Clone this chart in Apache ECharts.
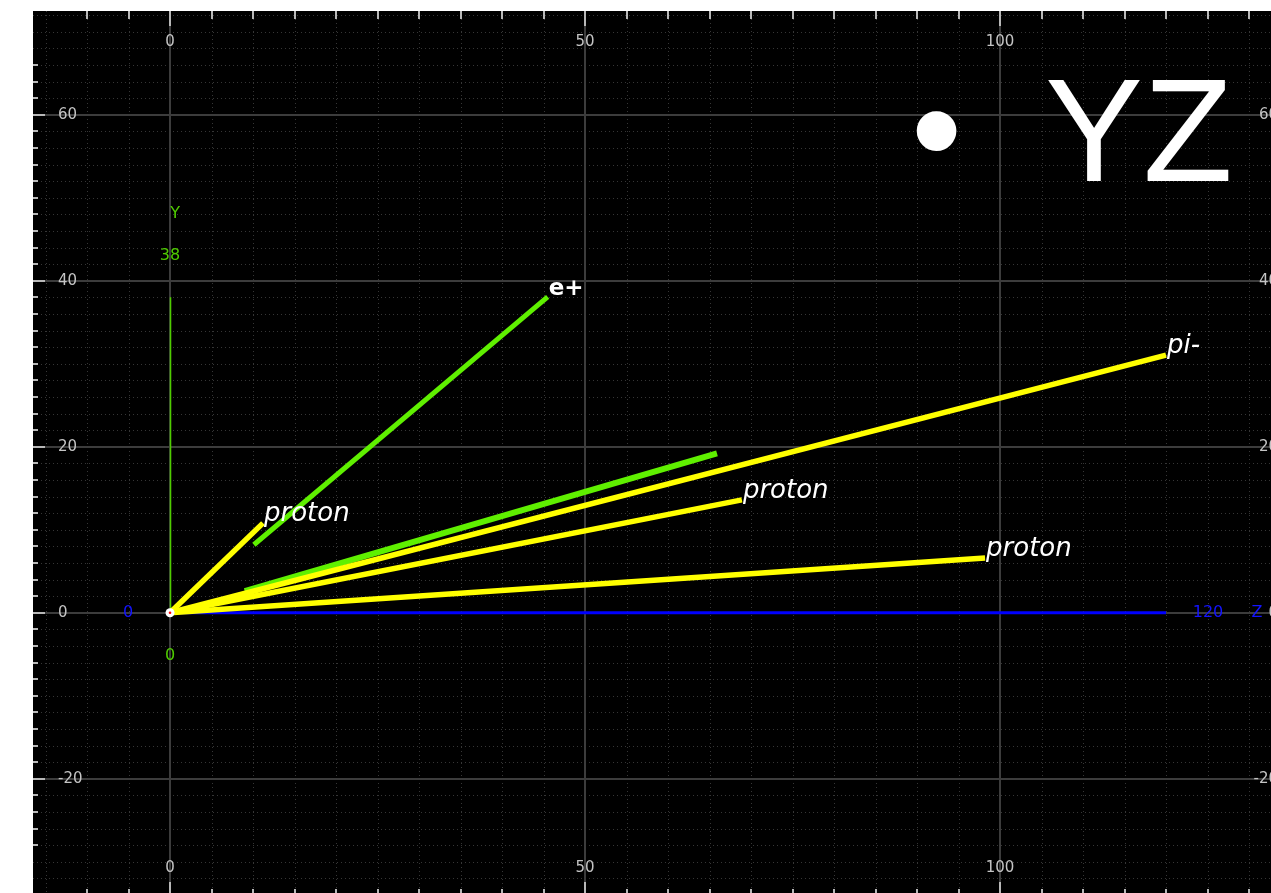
<!DOCTYPE html>
<html>
<head>
<meta charset="utf-8">
<script src="https://cdn.jsdelivr.net/npm/echarts@6/dist/echarts.min.js"></script>
<style>
  html, body { margin: 0; padding: 0; background: #ffffff; }
  #chart { width: 1271px; height: 893px; }
</style>
</head>
<body>
<div id="chart"></div>
<script>
// ---- data ----
const zMajorTicks = [0, 50, 100];
const zTickLabels = ['0', '50', '100'];
const yMajorTicks = [-20, 0, 20, 40, 60];
const yTickLabels = ['-20', '0', '20', '40', '60'];

// track kinds: 'e' = positron (green), 'h' = hadron (yellow)
const trackKinds  = ['e',   'e',  'h',      'h',   'h',      'h'];
const trackLabels = ['e+',  '',   'proton', 'pi-', 'proton', 'proton'];
const trackStartZ = [10.1,  9.0,  0,        0,     0,        0];
const trackStartY = [8.2,   2.6,  0,        0,     0,        0];
const trackEndZ   = [45.5,  65.9, 11.2,     120,   68.9,     98.2];
const trackEndY   = [38.05, 19.2, 10.8,     31.05, 13.6,     6.6];

// coordinate-axis indicators drawn in the scene
const yIndicatorRange = [0, 38];
const zIndicatorRange = [0, 120];
const yIndicatorName = 'Y';
const zIndicatorName = 'Z';

// ---- view extents ----
const zView = [-16.51, 132.65];
const yView = [-33.76, 72.5];

const GRID = { left: 33, top: 11, right: 0, bottom: 0 };
const minorZStep = 5, minorYStep = 2;
const tickZRange = [-10, 130], tickYRange = [-28, 66];

const chart = echarts.init(document.getElementById('chart'), null, { renderer: 'canvas' });

function approxIn(v, arr) { return arr.some(a => Math.abs(a - v) < 1e-6); }

function renderGrid(params, api) {
  const cs = params.coordSys;
  const L = cs.x, T = cs.y, R = cs.x + cs.width, B = cs.y + cs.height;
  const ch = [];
  const minorStyle = { stroke: '#363636', lineWidth: 1, lineDash: [1, 3] };
  const majorStyle = { stroke: '#3c3c3c', lineWidth: 2 };
  const tickStyle = { stroke: '#b8b8b8', lineWidth: 2 };
  // minor vertical
  for (let z = Math.ceil(zView[0] / minorZStep) * minorZStep; z <= zView[1]; z += minorZStep) {
    if (approxIn(z, zMajorTicks)) continue;
    const px = Math.round(api.coord([z, 0])[0]) + 0.5;
    ch.push({ type: 'line', shape: { x1: px, y1: T, x2: px, y2: B }, style: minorStyle });
  }
  // minor horizontal
  for (let y = Math.ceil(yView[0] / minorYStep) * minorYStep; y <= yView[1]; y += minorYStep) {
    if (approxIn(y, yMajorTicks)) continue;
    const py = Math.round(api.coord([0, y])[1]) + 0.5;
    ch.push({ type: 'line', shape: { x1: L, y1: py, x2: R, y2: py }, style: minorStyle });
  }
  // major lines
  zMajorTicks.forEach(z => {
    const px = Math.round(api.coord([z, 0])[0]);
    ch.push({ type: 'line', shape: { x1: px, y1: T, x2: px, y2: B }, style: majorStyle });
  });
  yMajorTicks.forEach(y => {
    const py = Math.round(api.coord([0, y])[1]);
    ch.push({ type: 'line', shape: { x1: L, y1: py, x2: R, y2: py }, style: majorStyle });
  });
  // edge ticks (z)
  for (let z = tickZRange[0]; z <= tickZRange[1]; z += minorZStep) {
    const px = Math.round(api.coord([z, 0])[0]);
    const len = approxIn(z, zMajorTicks) ? 15 : 8;
    ch.push({ type: 'line', shape: { x1: px, y1: T, x2: px, y2: T + len }, style: tickStyle });
    ch.push({ type: 'line', shape: { x1: px, y1: B + 4, x2: px, y2: B + 4 - len }, style: tickStyle });
  }
  // edge ticks (y)
  for (let y = tickYRange[0]; y <= tickYRange[1]; y += minorYStep) {
    const py = Math.round(api.coord([0, y])[1]);
    const len = approxIn(y, yMajorTicks) ? 12 : 5;
    ch.push({ type: 'line', shape: { x1: L, y1: py, x2: L + len, y2: py }, style: tickStyle });
    ch.push({ type: 'line', shape: { x1: R + 32, y1: py, x2: R + 32 - len, y2: py }, style: tickStyle });
  }
  // tick labels
  const lblFont = '15px "DejaVu Sans", sans-serif';
  const lc = '#c4c4c4';
  zMajorTicks.forEach((z, i) => {
    const px = api.coord([z, 0])[0];
    ch.push({ type: 'text', style: { text: zTickLabels[i], x: px, y: T + 31, fill: lc, font: lblFont, align: 'center', verticalAlign: 'middle' } });
    ch.push({ type: 'text', style: { text: zTickLabels[i], x: px, y: B - 25, fill: lc, font: lblFont, align: 'center', verticalAlign: 'middle' } });
  });
  yMajorTicks.forEach((y, i) => {
    const py = api.coord([0, y])[1];
    ch.push({ type: 'text', style: { text: yTickLabels[i], x: L + 25, y: py, fill: lc, font: lblFont, align: 'left', verticalAlign: 'middle' } });
    ch.push({ type: 'text', style: { text: yTickLabels[i], x: R + 7, y: py, fill: lc, font: lblFont, align: 'right', verticalAlign: 'middle' } });
  });
  return { type: 'group', children: ch };
}

function renderIndicators(params, api) {
  const ch = [];
  const o = api.coord([0, 0]);
  const yTop = api.coord([0, yIndicatorRange[1]]);
  const zEnd = api.coord([zIndicatorRange[1], 0]);
  const f = '16px "DejaVu Sans", sans-serif';
  const green = '#4fcc00', blue = '#1414ff';
  ch.push({ type: 'line', shape: { x1: o[0], y1: o[1], x2: zEnd[0], y2: zEnd[1] }, style: { stroke: '#0000ff', lineWidth: 3 } });
  ch.push({ type: 'line', shape: { x1: o[0] + 0.5, y1: o[1], x2: yTop[0] + 0.5, y2: yTop[1] }, style: { stroke: green, lineWidth: 1.5 } });
  ch.push({ type: 'text', style: { text: String(yIndicatorRange[1]), x: yTop[0], y: yTop[1] - 42, fill: green, font: f, align: 'center', verticalAlign: 'middle' } });
  ch.push({ type: 'text', style: { text: yIndicatorName, x: yTop[0] + 5, y: yTop[1] - 84, fill: green, font: f, align: 'center', verticalAlign: 'middle' } });
  ch.push({ type: 'text', style: { text: String(yIndicatorRange[0]), x: o[0], y: o[1] + 43, fill: green, font: f, align: 'center', verticalAlign: 'middle' } });
  ch.push({ type: 'text', style: { text: String(zIndicatorRange[0]), x: o[0] - 42, y: o[1], fill: blue, font: f, align: 'center', verticalAlign: 'middle' } });
  ch.push({ type: 'text', style: { text: String(zIndicatorRange[1]), x: zEnd[0] + 42, y: zEnd[1], fill: blue, font: f, align: 'center', verticalAlign: 'middle' } });
  ch.push({ type: 'text', style: { text: zIndicatorName, x: zEnd[0] + 91, y: zEnd[1], fill: blue, font: f, align: 'center', verticalAlign: 'middle' } });
  return { type: 'group', children: ch };
}

function renderTrack(params, api) {
  const i = api.value(4);
  const s = api.coord([api.value(0), api.value(1)]);
  const e = api.coord([api.value(2), api.value(3)]);
  const isE = trackKinds[i] === 'e';
  const color = isE ? '#5ff000' : '#ffff00';
  const width = isE ? (i === 1 ? 6 : 5) : 5.5;
  const ch = [{ type: 'line', shape: { x1: s[0], y1: s[1], x2: e[0], y2: e[1] }, style: { stroke: color, lineWidth: width } }];
  if (trackLabels[i]) {
    const font = isE ? 'bold 23px "DejaVu Sans", sans-serif' : 'italic 26px "DejaVu Sans", sans-serif';
    ch.push({ type: 'text', z2: 10, style: { text: trackLabels[i], x: e[0] + 1, y: e[1] - (isE ? 8 : 9), fill: '#ffffff', font: font, align: 'left', verticalAlign: 'middle' } });
  }
  return { type: 'group', children: ch };
}

function renderOrigin(params, api) {
  const o = api.coord([0, 0]);
  return { type: 'group', children: [
    { type: 'circle', shape: { cx: o[0], cy: o[1], r: 4.5 }, style: { fill: '#ffffff' } },
    { type: 'circle', shape: { cx: o[0], cy: o[1], r: 1.3 }, style: { fill: '#ff0000' } }
  ] };
}

const trackData = trackKinds.map((k, i) => [trackStartZ[i], trackStartY[i], trackEndZ[i], trackEndY[i], i]);

const option = {
  backgroundColor: '#ffffff',
  animation: false,
  grid: { left: GRID.left, top: GRID.top, right: GRID.right, bottom: GRID.bottom, show: true, backgroundColor: '#000000', borderWidth: 0, containLabel: false },
  xAxis: { type: 'value', min: zView[0], max: zView[1], show: false },
  yAxis: { type: 'value', min: yView[0], max: yView[1], show: false },
  graphic: [
    { type: 'text', left: 911, top: 67, style: { text: '•', fill: '#ffffff', font: '146px "Liberation Sans", Arial, sans-serif' }, z: 100 },
    { type: 'text', left: 1045, top: 67, style: { text: 'YZ', fill: '#ffffff', font: '147px "Liberation Sans", Arial, sans-serif' }, z: 100 }
  ],
  series: [
    { type: 'custom', z: 1, silent: true, clip: false, data: [[0, 0]], renderItem: renderGrid },
    { type: 'custom', z: 2, silent: true, clip: false, data: [[0, 0]], renderItem: renderIndicators },
    { type: 'custom', z: 3, silent: true, clip: false, data: trackData, dimensions: ['sz', 'sy', 'ez', 'ey', 'idx'], encode: { x: [0, 2], y: [1, 3] }, renderItem: renderTrack },
    { type: 'custom', z: 4, silent: true, clip: false, data: [[0, 0]], renderItem: renderOrigin }
  ]
};
chart.setOption(option);
</script>
</body>
</html>
